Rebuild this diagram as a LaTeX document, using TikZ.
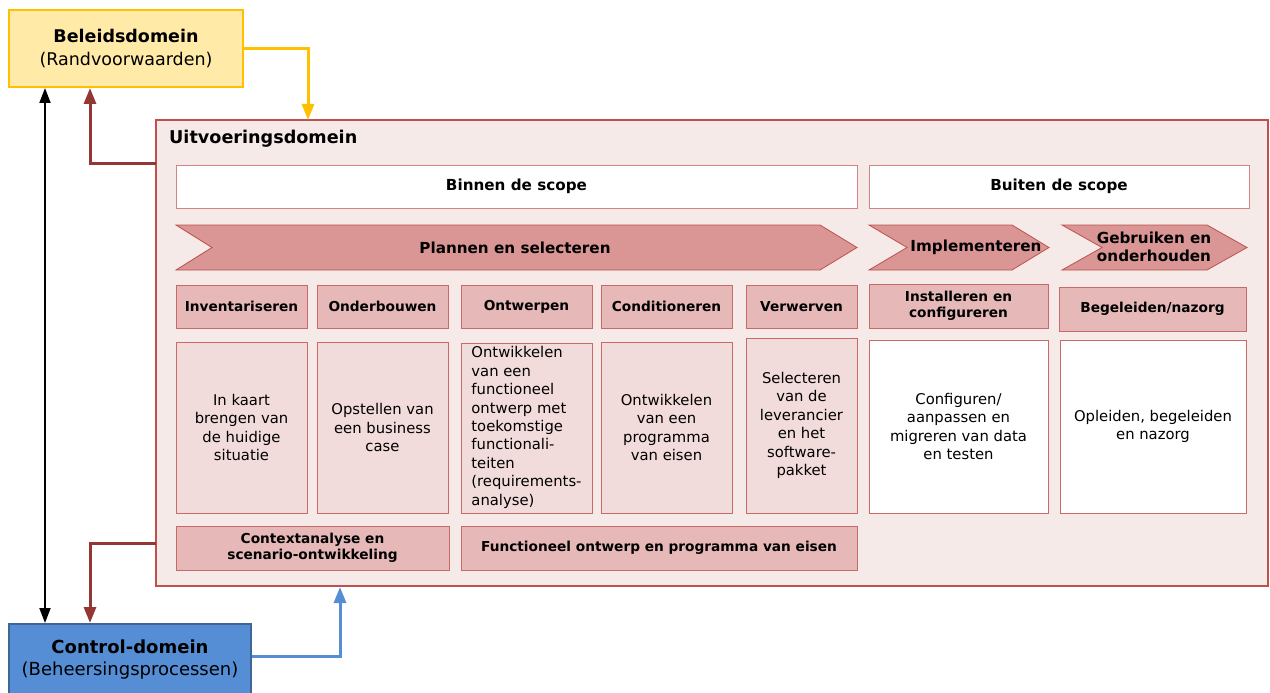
\documentclass[tikz,border=0pt]{standalone}
\usepackage{fontspec}
\setmainfont{DejaVu Sans}
\usetikzlibrary{arrows.meta}

\definecolor{geel}{HTML}{FFC000}
\definecolor{geellicht}{HTML}{FFEAA8}
\definecolor{blauw}{HTML}{558ED5}
\definecolor{blauwrand}{HTML}{3F6696}
\definecolor{rood}{HTML}{C0504D}
\definecolor{donkerrood}{HTML}{943634}
\definecolor{zalm}{HTML}{D99694}
\definecolor{roze}{HTML}{E6B9B8}
\definecolor{lichtroze}{HTML}{F2DCDB}
\definecolor{achtergrond}{HTML}{F6EAE9}

\tikzset{
  domein/.style={draw, line width=2pt, align=center, inner sep=0pt,
    font=\fontsize{17.5}{23}\selectfont},
  kop/.style={draw=rood!85, fill=roze, align=center, inner sep=0pt,
    font=\bfseries\fontsize{13.7}{16.5}\selectfont},
  omschr/.style={draw=rood!85, fill=lichtroze, align=center, inner sep=0pt,
    minimum height=171, font=\fontsize{14.8}{18.4}\selectfont},
  scope/.style={draw=rood!70, fill=white, inner sep=0pt, minimum height=43,
    font=\bfseries\fontsize{15.2}{17}\selectfont},
  fase/.style={draw=rood, fill=zalm, line width=0.8pt},
  fasetekst/.style={align=center, inner sep=0pt, font=\bfseries\fontsize{15.2}{18}\selectfont},
  pijl/.style={-{Triangle[length=16pt,width=12pt]}, line width=3pt}
}

\begin{document}
\begin{tikzpicture}[x=1pt, y=-1pt]
\useasboundingbox (0,0) rectangle (1270,693);

% uitvoeringsdomein
\node[domein, draw=rood, fill=achtergrond, minimum width=1112, minimum height=466] (uitv) at (712,353) {};
\node[anchor=west, inner sep=0pt, font=\bfseries\fontsize{17.6}{20}\selectfont] (titel) at (169,139) {Uitvoeringsdomein};

% scope
\node[scope, minimum width=681] (binnen) at (516.5,186.5) {Binnen de scope};
\node[scope, minimum width=380] (buiten) at (1059,186.5) {Buiten de scope};

% fasen
\draw[fase] (176,225) -- (820,225) -- (857,247.5) -- (820,270) -- (176,270) -- (212,247.5) -- cycle;
\draw[fase] (869,225) -- (1012,225) -- (1049,247.5) -- (1012,270) -- (869,270) -- (907,247.5) -- cycle;
\draw[fase] (1062,225) -- (1207,225) -- (1247,247.5) -- (1207,270) -- (1062,270) -- (1102,247.5) -- cycle;
\node[fasetekst] (plannen) at (515,247.5) {Plannen en selecteren};
\node[fasetekst] (impl) at (976,247.5) {Implementeren};
\node[fasetekst] (gebr) at (1154,246.5) {Gebruiken en\\onderhouden};

% activiteiten
\node[kop, minimum width=131, minimum height=43] (inv) at (241.5,306.5) {Inventariseren};
\node[kop, minimum width=131, minimum height=43] (ond) at (382.5,306.5) {Onderbouwen};
\node[kop, minimum width=131, minimum height=43] (ontw) at (526.5,306.5) {Ontwerpen};
\node[kop, minimum width=131, minimum height=43] (cond) at (666.5,306.5) {Conditioneren};
\node[kop, minimum width=111, minimum height=43] (verw) at (801.5,306.5) {Verwerven};
\node[kop, minimum width=179, minimum height=44] (inst) at (958.5,306) {Installeren en\\configureren};
\node[kop, minimum width=187, minimum height=44] (beg) at (1152.5,309) {Begeleiden/nazorg};

% omschrijvingen
\node[omschr, minimum width=131] (d1) at (241.5,427.5) {In kaart\\brengen van\\de huidige\\situatie};
\node[omschr, minimum width=131] (d2) at (382.5,427.5) {Opstellen van\\een business\\case};
\node[omschr, minimum width=131, minimum height=170] (d3) at (526.5,428) {};
\node[align=left, inner sep=0pt, font=\fontsize{14.8}{18.4}\selectfont] (d3t) at (526.5,427.5)
  {Ontwikkelen\\van een\\functioneel\\ontwerp met\\toekomstige\\functionali-\\teiten\\(requirements-\\analyse)};
\node[omschr, minimum width=131] (d4) at (666.5,427.5) {Ontwikkelen\\van een\\programma\\van eisen};
\node[omschr, minimum width=111, minimum height=175] (d5) at (801.5,425.5) {Selecteren\\van de\\leverancier\\en het\\software-\\pakket};
\node[omschr, fill=white, minimum width=179, minimum height=173] (d6) at (958.5,426.5) {Configuren/\\aanpassen en\\migreren van data\\en testen};
\node[omschr, fill=white, minimum width=186, minimum height=173] (d7) at (1153,426.5) {Opleiden, begeleiden\\en nazorg};

% resultaten
\node[kop, minimum width=273, minimum height=44] (ctx) at (312.5,548) {Contextanalyse en\\scenario-ontwikkeling};
\node[kop, minimum width=396, minimum height=44] (fo) at (659,548) {Functioneel ontwerp en programma van eisen};

% beleid en control
\node[domein, draw=geel, fill=geellicht, minimum width=234, minimum height=77] (beleid) at (126,48.5)
  {\textbf{Beleidsdomein}\\(Randvoorwaarden)};
\node[domein, draw=blauwrand, fill=blauw, minimum width=242, minimum height=71,
  font=\fontsize{18}{22}\selectfont] (control) at (130,659.5)
  {\textbf{Control-domein}\\(Beheersingsprocessen)};

% verbindingen
\coordinate (ingang) at (308,120);
\coordinate (uit1) at (156,163);
\coordinate (uit2) at (156,543);
\draw[pijl, geel] (beleid.east) -| (ingang);
\draw[pijl, donkerrood] (uit1) -| (beleid.south -| 90,0);
\draw[pijl, donkerrood] (uit2) -| (control.north -| 90,0);
\draw[pijl, blauw] (control.east |- 0,656) -| (uitv.south -| 340,0);
\draw[{Triangle[length=15pt,width=11pt]}-{Triangle[length=15pt,width=11pt]}, line width=1.8pt]
  (beleid.south -| 45,0) -- (control.north -| 45,0);
\end{tikzpicture}
\end{document}
